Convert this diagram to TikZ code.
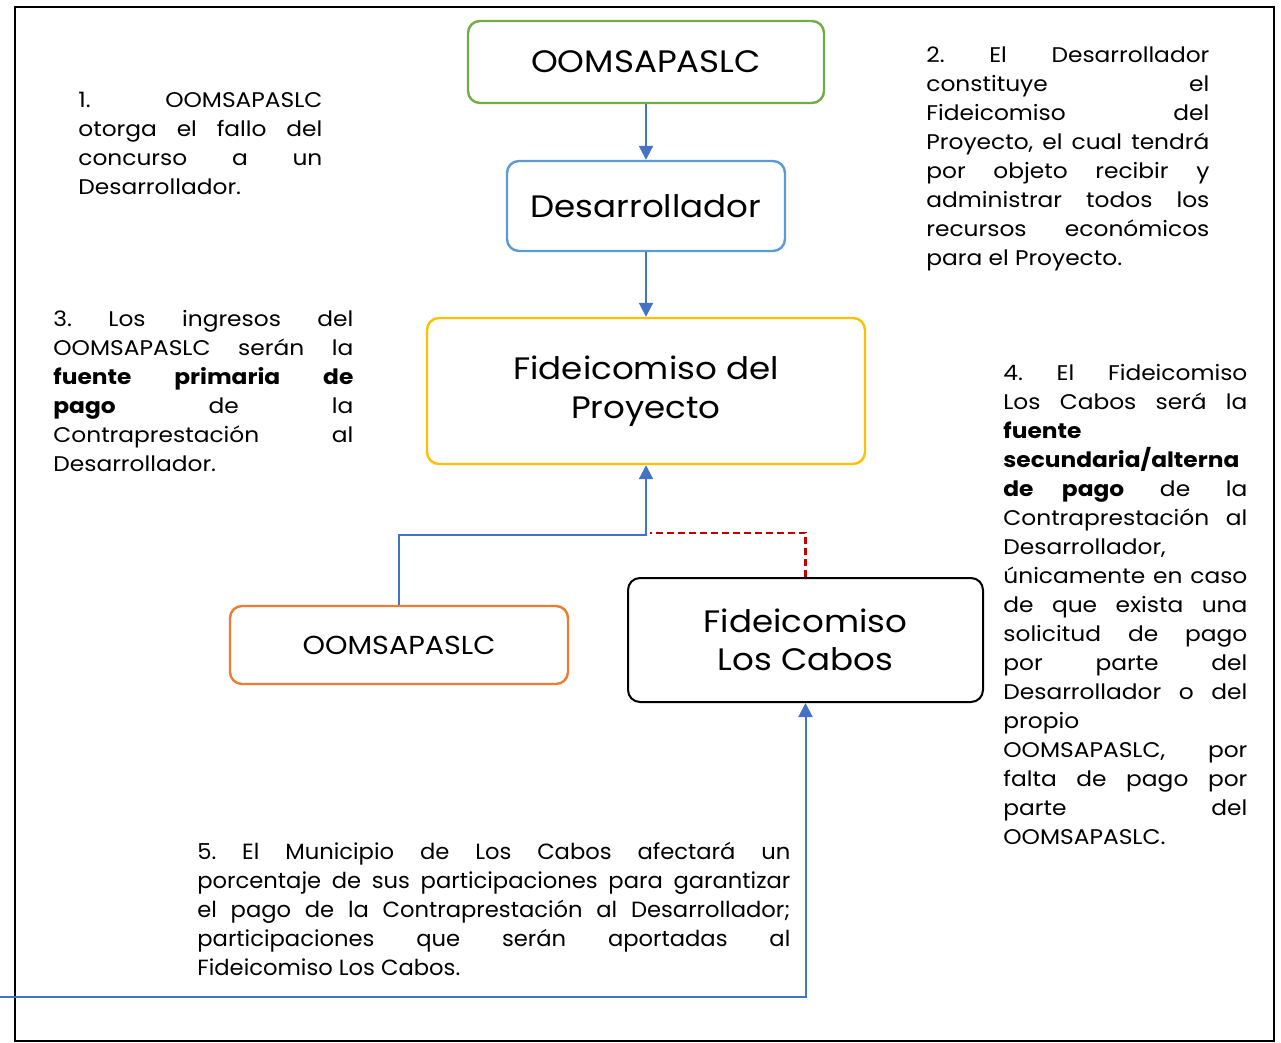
\documentclass[tikz,border=0pt]{standalone}
\usepackage{fontspec}
\setmainfont{Poppins}[FakeStretch=1.1]
\newfontfamily\plainfont{Poppins}[FakeStretch=1.03]
\usetikzlibrary{arrows.meta}
\definecolor{boxgreen}{RGB}{112,173,71}
\definecolor{boxblue}{RGB}{91,155,213}
\definecolor{boxyellow}{RGB}{255,192,0}
\definecolor{boxorange}{RGB}{237,125,49}
\definecolor{linkblue}{RGB}{68,114,196}
\definecolor{linkred}{RGB}{192,0,0}
\tikzset{
  box/.style={draw, rounded corners=6pt, line width=1.2pt, align=center, inner sep=0pt, font=\fontsize{15.5}{19.3}\selectfont},
  link/.style={draw=linkblue, line width=1pt, -{Triangle[length=7pt,width=7pt]}},
  note/.style={anchor=north west, inner sep=0pt, align=justify, font=\fontsize{10.6}{14.5}\selectfont},
}
\hyphenpenalty=10000
\frenchspacing
\begin{document}
\begin{tikzpicture}[x=0.5pt,y=-0.5pt]
\useasboundingbox (0,0) rectangle (1281,1043);
\draw[black, line width=1pt] (15,7) rectangle (1274,1041);
\node[box, draw=boxgreen, minimum width=178pt, minimum height=41pt] (oomA) at (646,62) {OOMSAPASLC};
\node[box, draw=boxblue, minimum width=139pt, minimum height=45pt] (dev) at (646,206) {Desarrollador};
\node[box, draw=boxyellow, minimum width=219pt, minimum height=73pt] (fidP) at (646,391) {Fideicomiso del\\Proyecto};
\node[box, draw=boxorange, minimum width=169pt, minimum height=39pt, font=\fontsize{13}{16}\selectfont] (oomB) at (399,645) {OOMSAPASLC};
\node[box, draw=black, line width=1pt, minimum width=177.5pt, minimum height=62pt] (fidLC) at (805.5,640) {Fideicomiso\\Los Cabos};
\coordinate (join) at (646,535);
\coordinate (munic) at (0,997);
\draw[link] (oomA) -- (dev);
\draw[link] (dev) -- (fidP);
\draw[link] (oomB.north) |- (join) -- (fidP.south);
\draw[linkred, line width=1.1pt, dash pattern=on 3.5pt off 2pt] (fidLC.north) |- ([xshift=2pt,yshift=1pt]join);
\draw[link] (munic) -| (fidLC.south);
\node[note, text width=122pt] (n1) at (78,92) {1. OOMSAPASLC\linebreak otorga el fallo del\linebreak concurso a un\linebreak Desarrollador.};
\node[note, text width=141.5pt] (n2) at (926,46) {2. El Desarrollador\linebreak constituye el\linebreak Fideicomiso del\linebreak Proyecto, el cual tendrá\linebreak por objeto recibir y\linebreak administrar todos los\linebreak recursos económicos\linebreak para el Proyecto.};
\node[note, text width=150pt] (n3) at (53,310) {3. Los ingresos del\linebreak OOMSAPASLC serán la\linebreak \textbf{fuente primaria de\linebreak pago} de la\linebreak Contraprestación al\linebreak Desarrollador.};
\node[note, text width=122pt] (n4) at (1003,364) {4. El Fideicomiso\linebreak Los Cabos será la\linebreak \textbf{fuente\newline secundaria/alterna\newline de pago} de la\linebreak Contraprestación al\linebreak Desarrollador,\newline únicamente en caso\linebreak de que exista una\linebreak solicitud de pago\linebreak por parte del\linebreak Desarrollador o del\linebreak propio\newline OOMSAPASLC, por\linebreak falta de pago por\linebreak parte del\linebreak OOMSAPASLC.};
\node[note, text width=296.5pt, font=\plainfont\fontsize{11}{14.5}\selectfont] (n5) at (197,842) {5. El Municipio de Los Cabos afectará un\linebreak porcentaje de sus participaciones para garantizar\linebreak el pago de la Contraprestación al Desarrollador;\linebreak participaciones que serán aportadas al\linebreak Fideicomiso Los Cabos.};
\end{tikzpicture}
\end{document}
